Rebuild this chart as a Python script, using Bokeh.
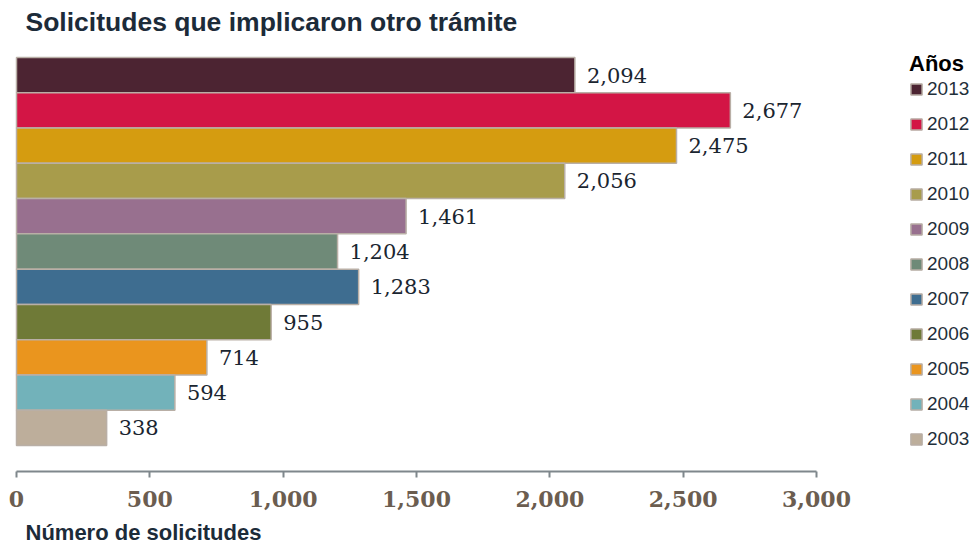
from bokeh.plotting import figure
from bokeh.models import (ColumnDataSource, Range1d, FixedTicker, NumeralTickFormatter,
                          Label, Legend, LegendItem, Title)
from bokeh.core.properties import value
from bokeh.embed import file_html
from bokeh.resources import INLINE

years = ["2013", "2012", "2011", "2010", "2009", "2008", "2007", "2006", "2005", "2004", "2003"]
counts = [2094, 2677, 2475, 2056, 1461, 1204, 1283, 955, 714, 594, 338]
colors = ["#4c2432", "#d31545", "#d59c10", "#a89c4b", "#98708f", "#6f8a78",
          "#3e6d90", "#6f7a37", "#ea951e", "#72b2ba", "#bdae9b"]
x_ticks = [0, 500, 1000, 1500, 2000, 2500, 3000]
title_text = "Solicitudes que implicaron otro trámite"
xlabel_text = "Número de solicitudes"
legend_title = "Años"

n = len(years)
ypos = [n - 1 - i for i in range(n)]
labels = ["{:,}".format(c) for c in counts]

src = ColumnDataSource(dict(y=ypos, v=counts, color=colors, year=years, lab=labels))

W, H = 977, 552
p = figure(width=W, height=H, output_backend="svg", toolbar_location=None,
           x_range=Range1d(-60, 3603.75), y_range=Range1d(-1.236, 12.115),
           y_axis_location=None, min_border_left=0, min_border_right=0,
           min_border_top=0, min_border_bottom=81)
p.outline_line_color = None
p.xgrid.grid_line_color = None
p.ygrid.grid_line_color = None
p.background_fill_color = "white"
p.border_fill_color = "white"

r = p.hbar(y="y", right="v", left=0, height=1.0, source=src, fill_color="color",
           line_color="#b9afa6", line_width=1.5)

p.text(x="v", y="y", text="lab", source=src, x_offset=12, text_baseline="middle",
       text_align="left", text_font=value("DejaVu Serif"), text_font_size="21px",
       text_color="#1a2530")

ax = p.xaxis[0]
ax.bounds = (x_ticks[0], x_ticks[-1])
ax.ticker = FixedTicker(ticks=x_ticks)
ax.formatter = NumeralTickFormatter(format="0,0")
ax.axis_line_color = "#7f878c"
ax.axis_line_width = 2
ax.major_tick_line_color = "#7f878c"
ax.major_tick_line_width = 2
ax.major_tick_in = 0
ax.major_tick_out = 6
ax.minor_tick_line_color = None
ax.major_label_text_font = "DejaVu Serif"
ax.major_label_text_font_style = "bold"
ax.major_label_text_font_size = "22px"
ax.major_label_text_color = "#6b5d50"
ax.major_label_standoff = 13

p.add_layout(Title(text=xlabel_text, align="left", offset=25, standoff=16,
                   text_font="Liberation Sans", text_font_style="bold",
                   text_font_size="22px", text_color="#1c2b39"), "below")

p.add_layout(Label(x=33.75, y=11.505, text=title_text,
                   text_font="Liberation Sans", text_font_style="bold",
                   text_font_size="26.5px", text_color="#1c2b39",
                   text_baseline="alphabetic"))

legend = Legend(location=(909, 21))
legend.items = [LegendItem(label=years[i], renderers=[r], index=i) for i in range(n)]
legend.title = legend_title
legend.title_text_font = "Liberation Sans"
legend.title_text_font_style = "bold"
legend.title_text_font_size = "22px"
legend.title_text_color = "#000000"
legend.title_standoff = 1
legend.label_text_font = "Liberation Sans"
legend.label_text_font_size = "19px"
legend.label_text_color = "#1f2f3a"
legend.glyph_width = 14
legend.glyph_height = 14
legend.label_standoff = 4
legend.label_height = 20
legend.spacing = 13
legend.padding = 0
legend.margin = 0
legend.border_line_color = None
legend.background_fill_alpha = 0
p.add_layout(legend, "center")

open("out.html", "w").write(file_html(p, INLINE))
